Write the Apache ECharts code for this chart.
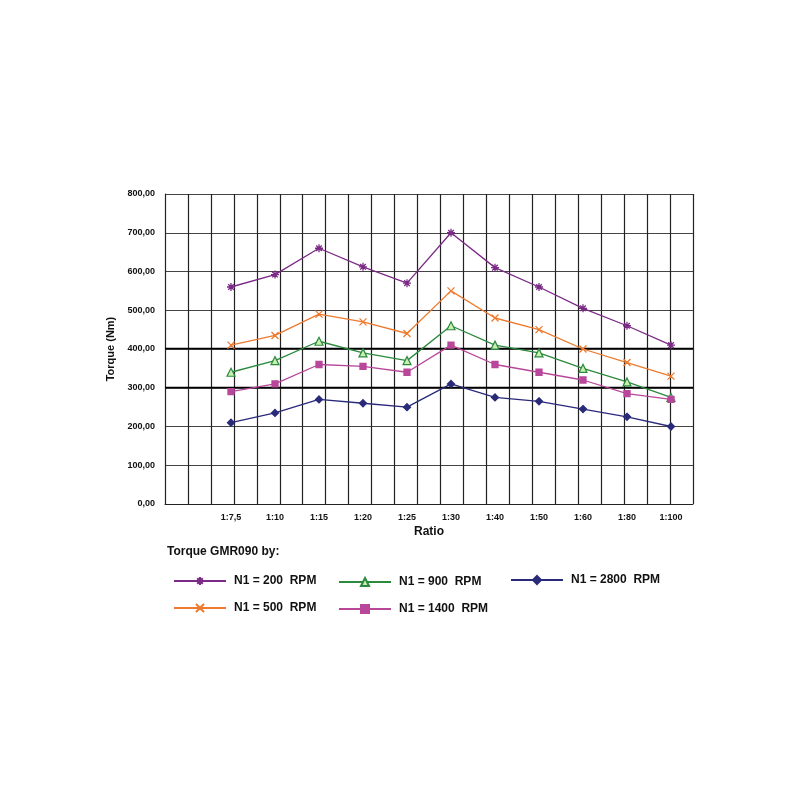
<!DOCTYPE html>
<html>
<head>
<meta charset="utf-8">
<script src="https://cdn.jsdelivr.net/npm/echarts@6/dist/echarts.min.js"></script>
<style>html,body{margin:0;background:#fff}#main{width:800px;height:800px}</style>
</head>
<body>
<div id="main"></div>
<script>
var ratios = ['', '1:7,5', '1:10', '1:15', '1:20', '1:25', '1:30', '1:40', '1:50', '1:60', '1:80', '1:100'];
var rpm200 = ['-', 560, 592, 660, 612, 570, 700, 610, 560, 505, 460, 410];
var rpm500 = ['-', 410, 435, 490, 470, 440, 550, 480, 450, 400, 365, 330];
var rpm900 = ['-', 340, 370, 420, 390, 370, 460, 410, 390, 350, 315, 275];
var rpm1400 = ['-', 290, 310, 360, 355, 340, 410, 360, 340, 320, 285, 270];
var rpm2800 = ['-', 210, 235, 270, 260, 250, 310, 275, 265, 245, 225, 200];

var chartDom = document.getElementById('main');
var myChart = echarts.init(chartDom);

var gridLines = [];
for (var i = 0; i < 24; i++) gridLines.push(i);

var asterisk = 'path://M0,5L10,5L5,5L5,0L5,10L5,5L1.5,1.5L8.5,8.5L5,5L8.5,1.5L1.5,8.5L5,5Z';
var cross = 'path://M0,0L10,10L5,5L10,0L0,10L5,5Z';

function mkSeries(name, data, color, symbol, size, extra) {
  var s = {
    name: name, type: 'line', data: data, xAxisIndex: 0, z: 5,
    symbol: symbol, symbolSize: size,
    lineStyle: { color: color, width: 1.3 },
    itemStyle: { color: color, borderColor: color, borderWidth: 1.3 },
    animation: false
  };
  if (extra) s.itemStyle = extra;
  return s;
}

function leg(name, left, top) {
  return {
    data: [name], left: left, top: top, itemWidth: 52, itemHeight: 10,
    textStyle: { fontSize: 12, fontWeight: 'bold', color: '#111', padding: [0, 0, 0, 3] }
  };
}

var option = {
  backgroundColor: '#fff',
  textStyle: { fontFamily: 'Liberation Sans, Arial' },
  grid: { left: 165, right: 107, top: 194, bottom: 296 },
  xAxis: [{
    type: 'category', data: ratios, boundaryGap: true,
    axisLine: { lineStyle: { color: '#222' } },
    axisTick: { show: false },
    axisLabel: { color: '#111', fontWeight: 'bold', fontSize: 9, margin: 9 },
    name: 'Ratio', nameLocation: 'middle', nameGap: 22,
    nameTextStyle: { color: '#111', fontWeight: 'bold', fontSize: 12 }
  }, {
    type: 'category', data: gridLines, boundaryGap: false, show: true, position: 'bottom',
    axisLine: { show: false }, axisTick: { show: false }, axisLabel: { show: false },
    splitLine: { show: true, interval: 0, lineStyle: { color: '#222', width: 1.2 } }
  }],
  yAxis: {
    type: 'value', min: 0, max: 800, interval: 100,
    axisLine: { show: true, lineStyle: { color: '#222' } },
    axisTick: { show: false },
    axisLabel: {
      color: '#111', fontWeight: 'bold', fontSize: 9, margin: 10,
      formatter: function (v) { return v.toFixed(2).replace('.', ','); }
    },
    splitLine: { lineStyle: { color: '#444', width: 1 } },
    name: 'Torque (Nm)', nameLocation: 'middle', nameGap: 40, nameRotate: 90,
    nameTextStyle: { color: '#111', fontWeight: 'bold', fontSize: 11 }
  },
  graphic: [
    { type: 'text', left: 167, top: 546, style: { text: 'Torque GMR090 by:', font: 'bold 12px Liberation Sans, Arial', fill: '#111' } },
    { type: 'line', shape: { x1: 165, y1: 348.5, x2: 693, y2: 348.5 }, style: { stroke: '#000', lineWidth: 1.6 }, z: 1 },
    { type: 'line', shape: { x1: 165, y1: 387.5, x2: 693, y2: 387.5 }, style: { stroke: '#000', lineWidth: 1.6 }, z: 1 }
  ],
  legend: [
    leg('N1 = 200  RPM', 168, 570),
    leg('N1 = 500  RPM', 168, 597),
    leg('N1 = 900  RPM', 333, 571),
    leg('N1 = 1400  RPM', 333, 598),
    leg('N1 = 2800  RPM', 505, 569)
  ],
  series: [
    mkSeries('N1 = 200  RPM', rpm200, '#7b2a86', asterisk, 8),
    mkSeries('N1 = 500  RPM', rpm500, '#ee7a2e', cross, 7),
    mkSeries('N1 = 900  RPM', rpm900, '#2b8a3e', 'triangle', 8, { color: '#c8f0b0', borderColor: '#2b8a3e', borderWidth: 1.2 }),
    mkSeries('N1 = 1400  RPM', rpm1400, '#b8479a', 'rect', 6),
    mkSeries('N1 = 2800  RPM', rpm2800, '#2a2a7a', 'diamond', 7)
  ]
};

option && myChart.setOption(option);

window.addEventListener('resize', function () {
  myChart.resize();
});
</script>
</body>
</html>
